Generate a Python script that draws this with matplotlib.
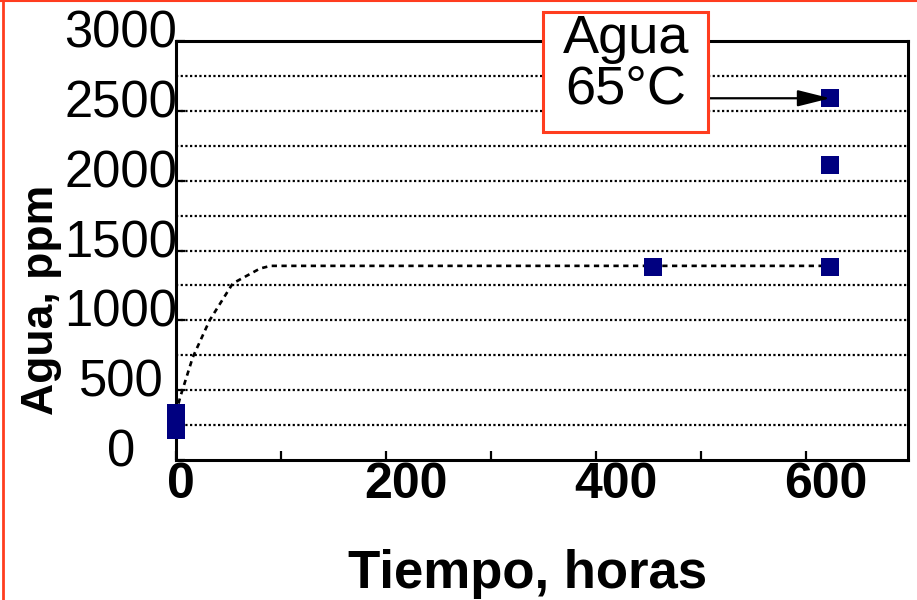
import matplotlib
matplotlib.use("Agg")
import matplotlib.pyplot as plt
import matplotlib.transforms as mtransforms
from matplotlib.patches import Rectangle
from matplotlib.lines import Line2D

plt.rcParams['font.family'] = ['Liberation Sans', 'DejaVu Sans']

# ---- data ----
points_x = [0, 0, 454, 623, 623, 623]
points_y = [336, 215, 1385, 1385, 2110, 2590]

curve_x = [0, 4, 16, 32, 54, 80, 90, 110, 627]
curve_y = [336, 450, 736, 1000, 1264, 1371, 1390, 1390, 1390]

xtick_vals = [0, 200, 400, 600]
xtick_labels = ["0", "200", "400", "600"]
xminor_vals = [100, 300, 500]
ytick_vals = [0, 500, 1000, 1500, 2000, 2500, 3000]
ytick_labels = ["0", "500", "1000", "1500", "2000", "2500", "3000"]
grid_vals = [250, 500, 750, 1000, 1250, 1500, 1750, 2000, 2250, 2500, 2750]

xlabel = "Tiempo, horas"
ylabel = "Agua, ppm"
note = "Agua\n65°C"
note_point = (623, 2590)

W, H = 917, 600
fig = plt.figure(figsize=(W / 100, H / 100), dpi=100)
ax = fig.add_axes([176 / W, 1 - 460 / H, 732 / W, 419 / H])
ax.set_xlim(0, 697)
ax.set_ylim(0, 3000)

# grid lines
for g in grid_vals:
    ax.axhline(g, color='black', lw=1.6, linestyle=(0, (1.0, 1.1)), zorder=1)

# dashed curve
ax.plot(curve_x, curve_y, color='black', lw=1.9, linestyle=(0, (2.0, 1.7)), zorder=2)

# squares
ax.plot(points_x, points_y, linestyle='none', marker='s', markersize=13,
        markerfacecolor='#000080', markeredgewidth=0, zorder=4, clip_on=False)

# spines & ticks
for s in ax.spines.values():
    s.set_linewidth(2.2)
    s.set_color('black')
ax.set_xticks(xtick_vals + xminor_vals)
ax.set_xticklabels([])
ax.set_yticks(ytick_vals)
ax.set_yticklabels([])
ax.tick_params(axis='both', direction='in', length=6.5, width=1.6, color='black')

# x tick labels
tx = mtransforms.blended_transform_factory(ax.transData, fig.transFigure)
for v, lab in zip(xtick_vals, xtick_labels):
    off = 5 if v == 0 else 20
    t = tx + mtransforms.ScaledTranslation(off / 100, 0, fig.dpi_scale_trans)
    fig.text(v, 1 - 498 / H, lab, transform=t, ha='center', va='baseline',
             fontsize=36, fontweight='bold', color='black')

# y tick labels
ty = mtransforms.blended_transform_factory(fig.transFigure, ax.transData)
ty = ty + mtransforms.ScaledTranslation(0, -6.5 / 100, fig.dpi_scale_trans)
for v, lab in zip(ytick_vals, ytick_labels):
    fig.text(121 / W, v, lab, transform=ty, ha='center', va='baseline',
             fontsize=36.5, color='black')

# axis labels
fig.text(528 / W, 1 - 588 / H, xlabel, ha='center', va='baseline',
         fontsize=38, fontweight='bold')
fig.text(42 / W, 1 - 300 / H, ylabel, ha='center', va='center', rotation=90,
         fontsize=32, fontweight='bold')

# annotation box
box = Rectangle((543 / W, 1 - 132 / H), 165 / W, 120 / H, transform=fig.transFigure,
                facecolor='white', edgecolor='#FF3D1F', lw=2.2, zorder=10)
fig.patches.append(box)
fig.text(626 / W, 1 - 64 / H, note, ha='center', va='center', fontsize=39,
         linespacing=1.02, zorder=11)
arrow_tf = mtransforms.blended_transform_factory(fig.transFigure, ax.transData)
ax.annotate('', xy=note_point, xycoords='data',
            xytext=(708 / W, note_point[1]), textcoords=arrow_tf,
            arrowprops=dict(arrowstyle='-|>,head_length=1.0,head_width=0.25',
                            mutation_scale=20, lw=1.6, color='black',
                            shrinkA=0, shrinkB=0), zorder=12)

# figure border pieces (top and left)
fig.lines.append(Line2D([2.5 / W, 2.5 / W], [0, 1], transform=fig.transFigure,
                        color='#FF3D1F', lw=2))
fig.lines.append(Line2D([0, 1], [1 - 0.5 / H, 1 - 0.5 / H], transform=fig.transFigure,
                        color='#FF3D1F', lw=1.5))

fig.savefig('out.png', dpi=100)
